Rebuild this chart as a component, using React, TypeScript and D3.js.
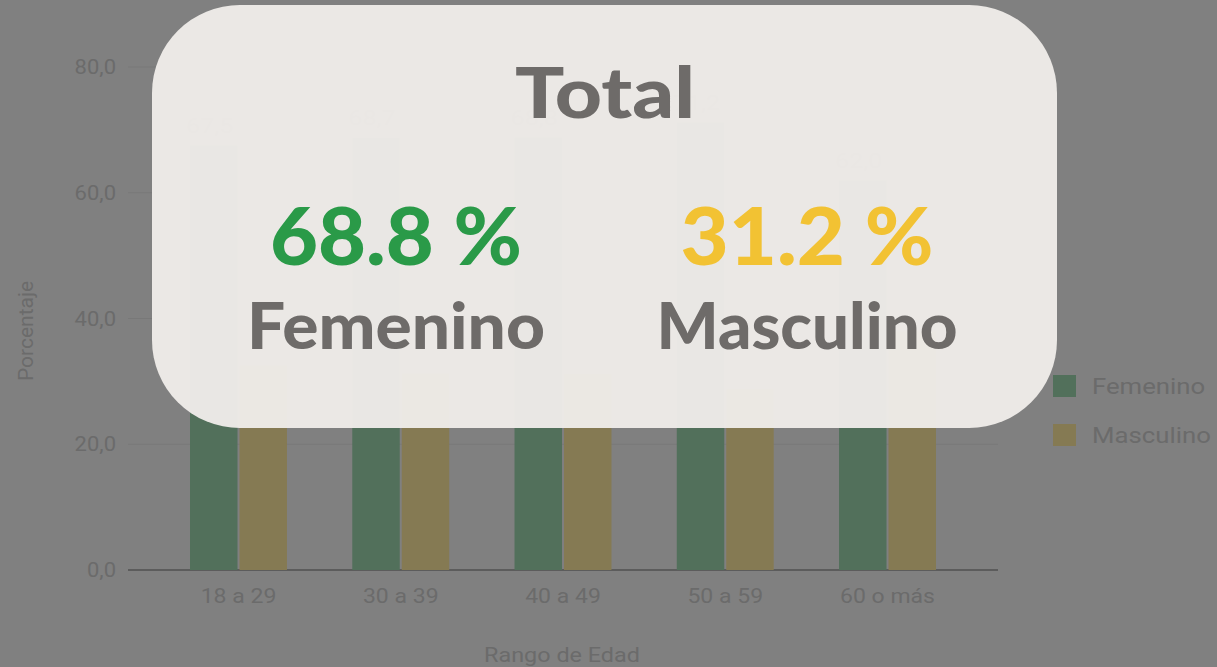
import React from "react";
import * as d3 from "d3";

const categories = ["18 a 29", "30 a 39", "40 a 49", "50 a 59", "60 o más"];
const seriesNames = ["Femenino", "Masculino"];
const femenino = [67.5, 68.7, 68.8, 71.2, 62.0];
const masculino = [32.5, 31.3, 31.2, 28.8, 38.0];
const yTicks = [0, 20, 40, 60, 80];
const totalLabel = "Total";
const totalFem = "68.8 %";
const totalMasc = "31.2 %";

const W = 1217;
const H = 667;
const barColors = ["#52705b", "#857a53"];
const textGrey = "#6b6b6b";
const cardText = "#6e6b69";

function SText(props: { x: number; y: number; sx: number; size: number; anchor?: string; children: React.ReactNode; fill?: string; opacity?: number }) {
  const { x, y, sx, size, anchor, children, fill, opacity } = props;
  return (
    <text
      transform={`translate(${x},${y}) scale(${sx},1)`}
      dy="0.35em"
      textAnchor={anchor || "start"}
      fontFamily="Roboto"
      fontSize={size}
      fill={fill || textGrey}
      opacity={opacity}
    >
      {children}
    </text>
  );
}

export default function App() {
  const x0 = d3.scaleBand<string>().domain(categories).range([128, 998]).paddingInner(0.378).paddingOuter(0.37);
  const x1 = d3.scaleBand<string>().domain(seriesNames).range([0, x0.bandwidth()]).padding(0.04);
  const y = d3.scaleLinear().domain([0, 80]).range([570, 67]);
  const fmt = (v: number) => v.toFixed(1).replace(".", ",");
  const series = [femenino, masculino];

  return (
    <svg width={W} height={H} style={{ position: "absolute", left: 0, top: 0, display: "block" }}>
      <rect x={0} y={0} width={W} height={H} fill="#808080" />
      {yTicks.map((t) => (
        <line key={t} x1={128} x2={998} y1={y(t)} y2={y(t)} stroke={t === 0 ? "#5c5c5c" : "#787878"} strokeWidth={t === 0 ? 2 : 1} />
      ))}
      {yTicks.map((t) => (
        <SText key={"l" + t} x={116} y={y(t)} sx={1.1} size={20} anchor="end">
          {fmt(t)}
        </SText>
      ))}
      {categories.map((c, i) => (
        <g key={c} transform={`translate(${x0(c)},0)`}>
          {seriesNames.map((s, j) => (
            <rect key={s} x={x1(s)} y={y(series[j][i])} width={x1.bandwidth()} height={y(0) - y(series[j][i])} fill={barColors[j]} />
          ))}
        </g>
      ))}
      {categories.map((c, i) => (
        <SText key={"v" + c} x={(x0(c) as number) + (x1(seriesNames[0]) as number) + x1.bandwidth() / 2 - 4} y={y(femenino[i]) - 20} sx={1.2} size={21} anchor="middle" fill="#5a5a5a">
          {fmt(femenino[i])}
        </SText>
      ))}
      {categories.map((c) => (
        <SText key={"x" + c} x={(x0(c) as number) + x0.bandwidth() / 2} y={596} sx={1.15} size={20} anchor="middle">
          {c}
        </SText>
      ))}
      <SText x={562} y={655} sx={1.17} size={20} anchor="middle">
        Rango de Edad
      </SText>
      <text transform="translate(26,331) rotate(-90)" dy="0.35em" textAnchor="middle" fontFamily="Roboto" fontSize={21} fill={textGrey}>
        Porcentaje
      </text>
      {seriesNames.map((s, j) => (
        <g key={"lg" + s}>
          <rect x={1053} y={375 + j * 49} width={23} height={22} fill={barColors[j]} />
          <SText x={1092} y={386 + j * 49} sx={1.12} size={23}>
            {s}
          </SText>
        </g>
      ))}
      <rect x={152} y={5} width={905} height={423} rx={88} ry={88} fill="#eeebe8" fillOpacity={0.97} />
      <text x={605} y={118} textAnchor="middle" fontFamily="Lato" fontWeight={900} fontSize={70} fill={cardText} textLength={180} lengthAdjust="spacingAndGlyphs">
        {totalLabel}
      </text>
      <text x={396} y={265} textAnchor="middle" fontFamily="Lato" fontWeight={900} fontSize={80} fill="#2a9a48" textLength={252} lengthAdjust="spacingAndGlyphs">
        {totalFem}
      </text>
      <text x={807} y={265} textAnchor="middle" fontFamily="Lato" fontWeight={900} fontSize={80} fill="#f2c233" textLength={253} lengthAdjust="spacingAndGlyphs">
        {totalMasc}
      </text>
      <text x={396} y={349} textAnchor="middle" fontFamily="Lato" fontWeight={900} fontSize={65} fill={cardText} textLength={298} lengthAdjust="spacingAndGlyphs">
        {seriesNames[0]}
      </text>
      <text x={807} y={349} textAnchor="middle" fontFamily="Lato" fontWeight={900} fontSize={65} fill={cardText} textLength={301} lengthAdjust="spacingAndGlyphs">
        {seriesNames[1]}
      </text>
    </svg>
  );
}
